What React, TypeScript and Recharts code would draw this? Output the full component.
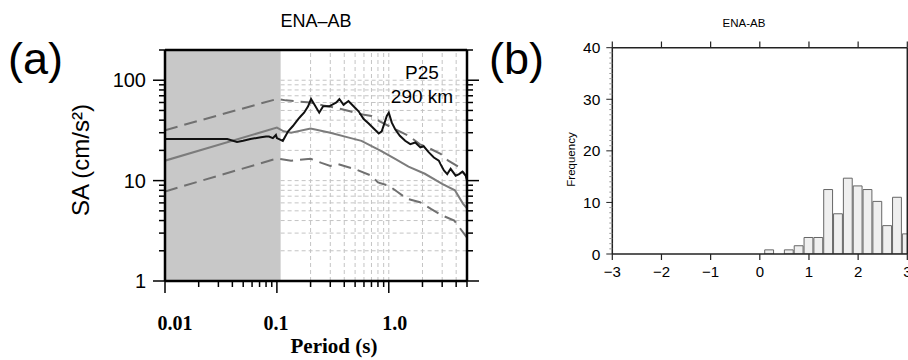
import React from "react";
import {
  ComposedChart,
  BarChart,
  Line,
  Bar,
  XAxis,
  YAxis,
  ReferenceArea,
  ReferenceLine,
} from "recharts";

// (a) observed spectrum, station P25 at 290 km
const obsPeriod = [0.01, 0.02, 0.03, 0.036, 0.044, 0.05, 0.058, 0.072, 0.08, 0.085, 0.092, 0.098, 0.1, 0.113, 0.126, 0.139, 0.155, 0.164, 0.175, 0.19, 0.202, 0.215, 0.239, 0.259, 0.294, 0.34, 0.362, 0.394, 0.436, 0.484, 0.537, 0.596, 0.661, 0.733, 0.813, 0.865, 0.96, 1.0, 1.064, 1.14, 1.256, 1.4, 1.556, 1.726, 1.914, 2.05, 2.28, 2.53, 2.8, 2.9, 3.11, 3.33, 3.57, 3.96, 4.25, 4.55, 4.87, 5.0];
const obsSA = [26, 26, 26, 26, 24.3, 25, 26, 27, 27.5, 27.5, 26.5, 28.5, 26.5, 24.9, 31, 35, 41, 44, 47.5, 55, 65, 58, 47.5, 55, 55, 60, 65, 57, 62, 55, 49, 41, 37, 33, 29.5, 31, 44, 47.5, 37.8, 32.5, 28, 24.9, 23.1, 24, 21.4, 22, 19.1, 17, 15.8, 14.6, 12.6, 11.6, 13.1, 11.2, 11.6, 12.3, 11.2, 10];

// ENA-AB median prediction
const medPeriod = [0.01, 0.1, 0.115, 0.134, 0.2, 0.3, 0.44, 0.57, 0.85, 1.14, 1.5, 2.1, 3.0, 3.9, 4.6, 5.0];
const medSA = [15.8, 33.7, 31, 30, 33, 30, 26.8, 24.9, 19.8, 16.5, 13.8, 11.7, 9.3, 8.0, 5.9, 5.3];

// +/- one sigma
const upPeriod = [0.01, 0.1, 0.12, 0.2, 0.26, 0.34, 0.45, 0.55, 0.7, 0.83, 1.0, 1.5, 1.9, 2.3, 2.9, 3.4, 4.3, 5.0];
const upSA = [31.8, 65, 63, 60, 56, 53, 49, 46, 44, 39, 35, 28, 23, 21, 18.5, 15.8, 13.5, 10.8];
const loPeriod = [0.01, 0.1, 0.134, 0.2, 0.25, 0.3, 0.35, 0.5, 0.7, 0.8, 1.0, 1.2, 1.45, 1.9, 2.4, 3.0, 3.85, 5.0];
const loSA = [7.8, 16.6, 15.8, 16.5, 15, 14, 14.6, 13, 11.2, 9.6, 8.9, 7.7, 6.6, 6.1, 5.2, 4.5, 4.0, 2.7];

const periodTicks = [0.01, 0.02, 0.03, 0.04, 0.05, 0.06, 0.07, 0.08, 0.09, 0.1, 0.2, 0.3, 0.4, 0.5, 0.6, 0.7, 0.8, 0.9, 1, 2, 3, 4, 5];
const periodLabels: Record<string, string> = { "0.01": "0.01", "0.1": "0.1", "1": "1.0" };
const saTicks = [1, 2, 3, 4, 5, 6, 7, 8, 9, 10, 20, 30, 40, 50, 60, 70, 80, 90, 100, 200];
const saLabels: Record<string, string> = { "1": "1", "10": "10", "100": "100" };
const gridPeriods = [0.2, 0.3, 0.4, 0.5, 0.6, 0.7, 0.8, 0.9, 1, 2, 3, 4];
const gridSA = [2, 3, 4, 5, 6, 7, 8, 9, 10, 20, 30, 40, 50, 60, 70, 80, 90, 100];

// (b) histogram
const binCenters = [0.2, 0.4, 0.6, 0.8, 1.0, 1.2, 1.4, 1.6, 1.8, 2.0, 2.2, 2.4, 2.6, 2.8, 3.0];
const binCounts = [0.8, 0, 0.8, 1.6, 3.2, 3.2, 12.5, 7.8, 14.7, 13.2, 12.5, 10.2, 5.5, 11, 3.9];
const devTicks = [-3, -2, -1, 0, 1, 2, 3];
const freqLabels = [0, 10, 20, 30, 40];
const freqTicks = Array.from({ length: 41 }, (_, i) => i);

const SANS = "Liberation Sans, Arial, sans-serif";
const SERIF = "Liberation Serif, Times New Roman, serif";

const toRows = (xs: number[], ys: number[]) => xs.map((p, i) => ({ period: p, sa: ys[i] }));
const obsData = toRows(obsPeriod, obsSA);
const medData = toRows(medPeriod, medSA);
const upData = toRows(upPeriod, upSA);
const loData = toRows(loPeriod, loSA);
const histData = binCenters.map((c, i) => ({ center: c, count: binCounts[i] }));

export default function App() {
  return (
    <div
      style={{
        position: "absolute",
        left: 0,
        top: 0,
        width: 908,
        height: 360,
        overflow: "hidden",
        background: "#fff",
      }}
    >
      <div style={{ position: "absolute", left: 0, top: 0 }}>
        <SpectrumPanel />
      </div>
      <div style={{ position: "absolute", left: 490, top: 0 }}>
        <HistogramPanel />
      </div>
      <svg
        width={908}
        height={360}
        style={{ position: "absolute", left: 0, top: 0, pointerEvents: "none" }}
      >
        <text x={8} y={74} fontFamily={SANS} fontSize={45}>(a)</text>
        <text x={489} y={74} fontFamily={SANS} fontSize={45}>(b)</text>
        <text x={316} y={27} textAnchor="middle" fontFamily={SANS} fontSize={18}>ENA–AB</text>
        <text x={422} y={79} textAnchor="middle" fontFamily={SANS} fontSize={19}>P25</text>
        <text x={422} y={103} textAnchor="middle" fontFamily={SANS} fontSize={19}>290 km</text>
        <text x={744} y={26.5} textAnchor="middle" fontFamily={SANS} fontSize={11.5}>ENA-AB</text>
      </svg>
    </div>
  );
}

/* ------------------------------------------------------------------ */

function SpectrumPanel() {
  const frame = { stroke: "#000", strokeWidth: 2.5 };
  const grid = { stroke: "#c4c4c4", strokeDasharray: "4 3", strokeWidth: 1 };
  return (
    <ComposedChart width={500} height={360} margin={{ top: 30, right: 13, bottom: 39, left: 105 }}>
      <ReferenceArea x1={0.01} x2={0.108} y1={1} y2={200} fill="#c8c8c8" fillOpacity={1} stroke="none" />
      {gridPeriods.map((p) => (
        <ReferenceLine key={"v" + p} x={p} {...grid} />
      ))}
      {gridSA.map((s) => (
        <ReferenceLine key={"h" + s} segment={[{ x: 0.108, y: s }, { x: 5, y: s }]} {...grid} />
      ))}
      <Line data={loData} dataKey="sa" type="linear" stroke="#707070" strokeWidth={2} strokeDasharray="13 7" dot={false} isAnimationActive={false} />
      <Line data={upData} dataKey="sa" type="linear" stroke="#707070" strokeWidth={2} strokeDasharray="13 7" dot={false} isAnimationActive={false} />
      <Line data={medData} dataKey="sa" type="linear" stroke="#7c7c7c" strokeWidth={2} dot={false} isAnimationActive={false} />
      <Line data={obsData} dataKey="sa" type="linear" stroke="#111" strokeWidth={2} dot={false} isAnimationActive={false} />

      <XAxis
        dataKey="period"
        type="number"
        scale="log"
        domain={[0.01, 5]}
        allowDataOverflow
        ticks={periodTicks}
        interval={0}
        tick={<PeriodTick side="bottom" />}
        tickSize={0}
        tickMargin={0}
        tickLine={false}
        axisLine={frame}
        height={40}
        label={<AxisTitle px={334} py={353} text="Period (s)" serif />}
      />
      <XAxis
        xAxisId="top"
        orientation="top"
        type="number"
        scale="log"
        domain={[0.01, 5]}
        allowDataOverflow
        ticks={periodTicks}
        interval={0}
        tick={<PeriodTick side="top" />}
        tickSize={0}
        tickMargin={0}
        tickLine={false}
        axisLine={frame}
        height={20}
      />
      <YAxis
        type="number"
        scale="log"
        domain={[1, 200]}
        allowDataOverflow
        ticks={saTicks}
        interval={0}
        tick={<SaTick side="left" />}
        tickSize={0}
        tickMargin={0}
        tickLine={false}
        axisLine={frame}
        width={60}
        label={<AxisTitle px={89} py={160} text="SA (cm/s²)" rotate size={24} />}
      />
      <YAxis
        yAxisId="right"
        orientation="right"
        type="number"
        scale="log"
        domain={[1, 200]}
        allowDataOverflow
        ticks={saTicks}
        interval={0}
        tick={<SaTick side="right" />}
        tickSize={0}
        tickMargin={0}
        tickLine={false}
        axisLine={frame}
        width={20}
      />
    </ComposedChart>
  );
}

function HistogramPanel() {
  const axis = { stroke: "#222", strokeWidth: 1.5 };
  return (
    <BarChart
      width={460}
      height={360}
      data={histData}
      margin={{ top: 37.7, right: 32.7, bottom: 66, left: 82.3 }}
      barCategoryGap={0}
    >
      <Bar dataKey="count" fill="#efefef" stroke="#666" strokeWidth={1} barSize={9.84} isAnimationActive={false} />
      {/* outward ticks on the top frame */}
      {devTicks.map((t) => (
        <ReferenceLine
          key={"top" + t}
          segment={[{ x: t, y: 40 }, { x: t, y: 41.2 }]}
          stroke="#222"
          strokeWidth={1.2}
          ifOverflow="visible"
        />
      ))}
      <XAxis
        dataKey="center"
        type="number"
        domain={[-3, 3]}
        allowDataOverflow
        ticks={devTicks}
        interval={0}
        tick={<DevTick />}
        tickSize={0}
        tickMargin={0}
        tickLine={false}
        axisLine={axis}
        height={40}
      />
      <XAxis
        xAxisId="top"
        orientation="top"
        type="number"
        domain={[-3, 3]}
        allowDataOverflow
        tick={false}
        tickLine={false}
        axisLine={axis}
        height={10}
      />
      <YAxis
        type="number"
        domain={[0, 40]}
        allowDataOverflow
        ticks={freqTicks}
        interval={0}
        tick={<FreqTick />}
        tickSize={0}
        tickMargin={0}
        tickLine={false}
        axisLine={axis}
        width={40}
        label={<AxisTitle px={575} py={159.5} text="Frequency" rotate size={11.5} offsetX={-490} />}
      />
      <YAxis
        yAxisId="right"
        orientation="right"
        type="number"
        domain={[0, 40]}
        allowDataOverflow
        tick={false}
        tickLine={false}
        axisLine={axis}
        width={10}
      />
    </BarChart>
  );
}

/* ------------------------------------------------------------------ */

function AxisTitle({ px, py, text, rotate, serif, size, offsetX = 0 }: any) {
  const x = px + offsetX;
  return (
    <text
      x={x}
      y={py}
      textAnchor="middle"
      fontFamily={serif ? SERIF : SANS}
      fontWeight={serif ? "bold" : "normal"}
      fontSize={size || 21}
      fill="#000"
      transform={rotate ? `rotate(-90 ${x} ${py})` : undefined}
    >
      {text}
    </text>
  );
}

function PeriodTick({ x, y, payload, side }: any) {
  const v = payload.value;
  const label = periodLabels[String(v)];
  const len = label ? 12 : 6;
  const dir = side === "top" ? -1 : 1;
  const shift: Record<string, number> = { "0.01": 10, "0.1": -1, "1": 6 };
  return (
    <g>
      <line x1={x} x2={x} y1={y} y2={y + dir * len} stroke="#000" strokeWidth={1.5} />
      {label && side === "bottom" && (
        <text x={x + shift[String(v)]} y={y + 49} textAnchor="middle" fontFamily={SERIF} fontWeight="bold" fontSize={20} fill="#000">
          {label}
        </text>
      )}
    </g>
  );
}

function SaTick({ x, y, payload, side }: any) {
  const v = payload.value;
  const label = saLabels[String(v)];
  const len = label ? 12 : 6;
  const dir = side === "left" ? -1 : 1;
  return (
    <g>
      <line x1={x} x2={x + dir * len} y1={y} y2={y} stroke="#000" strokeWidth={1.5} />
      {label && side === "left" && (
        <text x={x - 19} y={y} dy="0.36em" textAnchor="end" fontFamily={SANS} fontSize={20} fill="#000">
          {label}
        </text>
      )}
    </g>
  );
}

function DevTick({ x, y, payload }: any) {
  const v = payload.value;
  return (
    <g>
      <line x1={x} x2={x} y1={y} y2={y + 6} stroke="#222" strokeWidth={1.2} />
      <text x={x} y={y + 22.7} textAnchor="middle" fontFamily={SANS} fontSize={15} fill="#000">
        {v < 0 ? "−" + Math.abs(v) : String(v)}
      </text>
    </g>
  );
}

function FreqTick({ x, y, payload }: any) {
  const v = payload.value;
  const major = freqLabels.includes(v);
  return (
    <g>
      <line x1={x} x2={x - (major ? 6 : 3)} y1={y} y2={y} stroke={major ? "#222" : "#999"} strokeWidth={1} />
      {major && (
        <text x={x - 12} y={y} dy="0.36em" textAnchor="end" fontFamily={SANS} fontSize={15.5} fill="#000">
          {v}
        </text>
      )}
    </g>
  );
}
